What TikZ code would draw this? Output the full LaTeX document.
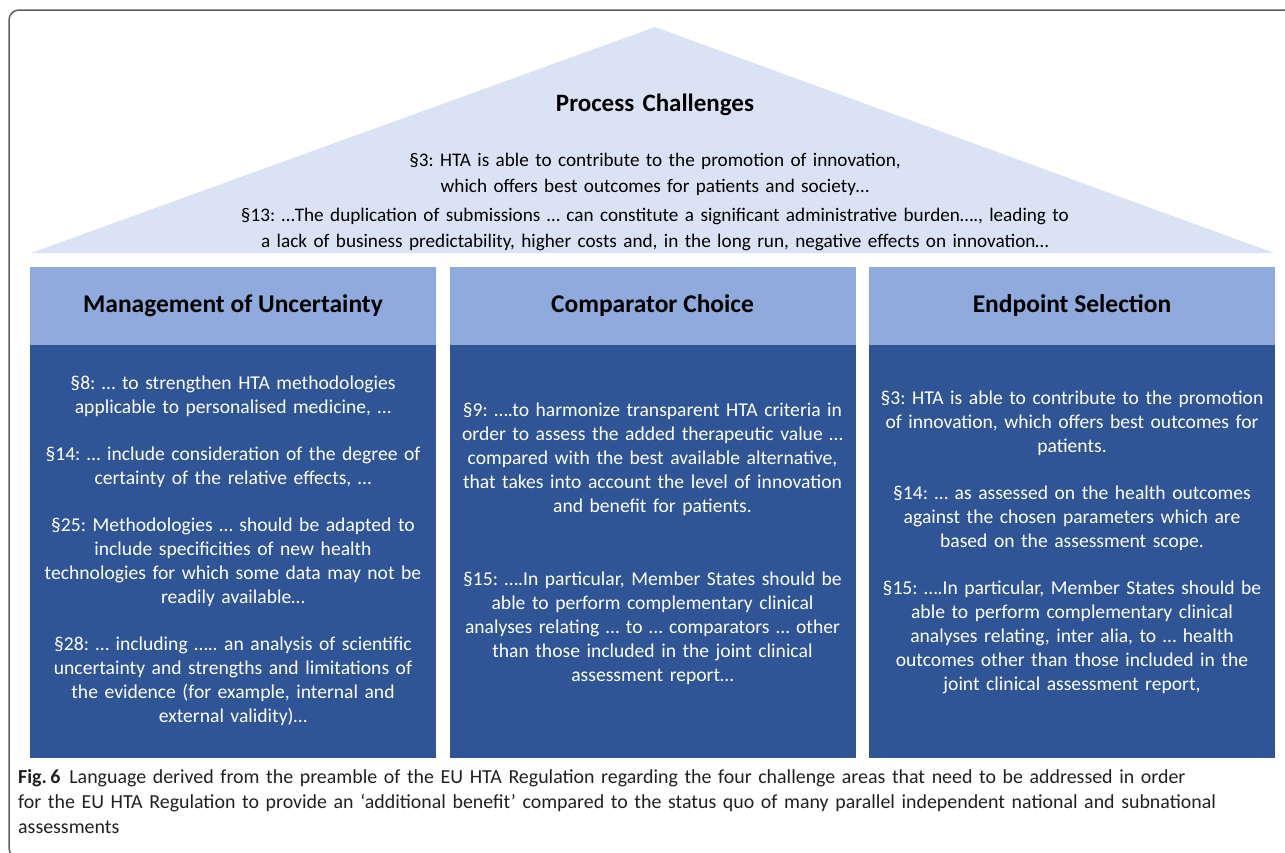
\documentclass[tikz,border=0pt]{standalone}
\usepackage{fontspec}
\setmainfont{Carlito}
\usepackage{color}
\definecolor{roofblue}{HTML}{DAE3F3}
\definecolor{headblue}{HTML}{8FAADC}
\definecolor{pillarblue}{HTML}{2F5597}
\definecolor{framegray}{HTML}{5F5F5F}
\definecolor{captionink}{HTML}{231F20}
\frenchspacing

\begin{document}
\begin{tikzpicture}[x=1pt,y=-1pt,
	head/.style={fill=headblue,minimum width=406pt,minimum height=78pt,inner sep=0pt,font=\bfseries\fontsize{25.5}{30}\selectfont},
	pillar/.style={fill=pillarblue,minimum width=406pt,minimum height=413pt,inner sep=0pt},
	pillartext/.style={anchor=base,text=white,align=center,text width=400pt,inner sep=0pt,font=\fontsize{19.6}{24}\selectfont},
	rooftext/.style={anchor=base,align=center,text width=1100pt,inner sep=0pt,font=\fontsize{19.2}{26}\selectfont}]
	\useasboundingbox (0,0) rectangle (1285,852);
	\draw[framegray,line width=1.5pt,rounded corners=10pt] (1300,10)--(9,10)--(9,858)--(1300,858);
	\fill[roofblue] (31,253)--(655,27)--(1274,253)--cycle;
	\node at (655,111)[rooftext,font=\bfseries\fontsize{25}{30}\selectfont] (roofTitle) {Process Challenges};
	\node at (655,166)[rooftext] (roofInnov) {§3: HTA is able to contribute to the promotion of innovation,\\which offers best outcomes for patients and society…};
	\node at (655,221)[rooftext] (roofDup) {§13: …The duplication of submissions … can constitute a significant administrative burden…., leading to\\a lack of business predictability, higher costs and, in the long run, negative effects on innovation…};
	\node at (233,306)[head] (uncHead) {Management of Uncertainty};
	\node at (652.5,306)[head] (compHead) {Comparator Choice};
	\node at (1072,306)[head] (endHead) {Endpoint Selection};
	\node at (233,551.5)[pillar] (uncBody) {};
	\node at (652.5,551.5)[pillar] (compBody) {};
	\node at (1072,551.5)[pillar] (endBody) {};
	\node at (233,389)[pillartext] (uncText) {§8: … to strengthen HTA methodologies\\applicable to personalised medicine, …\\[23pt]
		§14: … include consideration of the degree of\\certainty of the relative effects, …\\[23pt]
		§25: Methodologies … should be adapted to\\include specificities of new health\\technologies for which some data may not be\\readily available…\\[23pt]
		§28: … including ….. an analysis of scientific\\uncertainty and strengths and limitations of\\the evidence (for example, internal and\\external validity)…};
	\node at (652.5,416)[pillartext] (compText) {§9: ….to harmonize transparent HTA criteria in\\order to assess the added therapeutic value …\\compared with the best available alternative,\\that takes into account the level of innovation\\and benefit for patients.\\[49pt]
		§15: ….In particular, Member States should be\\able to perform complementary clinical\\analyses relating … to … comparators … other\\than those included in the joint clinical\\assessment report…};
	\node at (1072,404)[pillartext] (endText) {§3: HTA is able to contribute to the promotion\\of innovation, which offers best outcomes for\\patients.\\[23pt]
		§14: … as assessed on the health outcomes\\against the chosen parameters which are\\based on the assessment scope.\\[23pt]
		§15: ….In particular, Member States should be\\able to perform complementary clinical\\analyses relating, inter alia, to … health\\outcomes other than those included in the\\joint clinical assessment report,};
	\node at (18,783)[anchor=base west,align=left,text width=1265pt,inner sep=0pt,text=captionink,font=\fontsize{19.9}{25}\selectfont] (figCaption) {{\bfseries Fig.\,6}\hspace{9pt}Language derived from the preamble of the EU HTA Regulation regarding the four challenge areas that need to be addressed in order\\for the EU HTA Regulation to provide an ‘additional benefit’ compared to the status quo of many parallel independent national and subnational\\assessments};
\end{tikzpicture}
\end{document}
